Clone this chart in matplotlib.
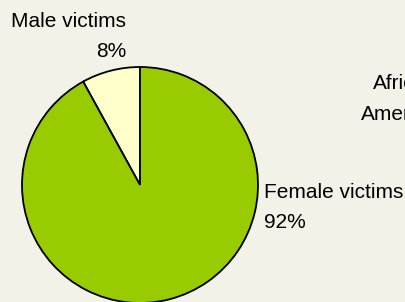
import matplotlib.pyplot as plt

labels = ["Male victims", "Female victims"]
values = [8, 92]
colors = ["#ffffcc", "#99cc00"]
title_lines = ["African", "American"]

plt.rcParams["font.family"] = ["Liberation Sans", "DejaVu Sans"]

fig = plt.figure(figsize=(4.06, 3.02), dpi=100, facecolor="#f3f2e8")
ax = fig.add_axes([0, 0, 1, 1])
ax.set_facecolor("#f3f2e8")

ax.pie(values, colors=colors, startangle=90, counterclock=True,
       center=(140, 117), radius=118, frame=True,
       wedgeprops=dict(edgecolor="black", linewidth=1.3))
ax.set_xlim(0, 406)
ax.set_ylim(0, 302)
ax.set_aspect("equal")
ax.axis("off")

fs = 15
# male label, right aligned above the pie
ax.text(126, 302 - 27, labels[0], ha="right", va="baseline", fontsize=fs)
ax.text(126, 302 - 57, f"{values[0]}%", ha="right", va="baseline", fontsize=fs)
# female label, left aligned beside the pie
ax.text(264, 302 - 198, labels[1], ha="left", va="baseline", fontsize=fs)
ax.text(264, 302 - 228, f"{values[1]}%", ha="left", va="baseline", fontsize=fs)
# title running off the right edge, as in the original
ax.text(373, 302 - 89, title_lines[0], ha="left", va="baseline", fontsize=fs)
ax.text(361, 302 - 120, title_lines[1], ha="left", va="baseline", fontsize=fs)

fig.savefig("out.png", dpi=100, facecolor=fig.get_facecolor())
